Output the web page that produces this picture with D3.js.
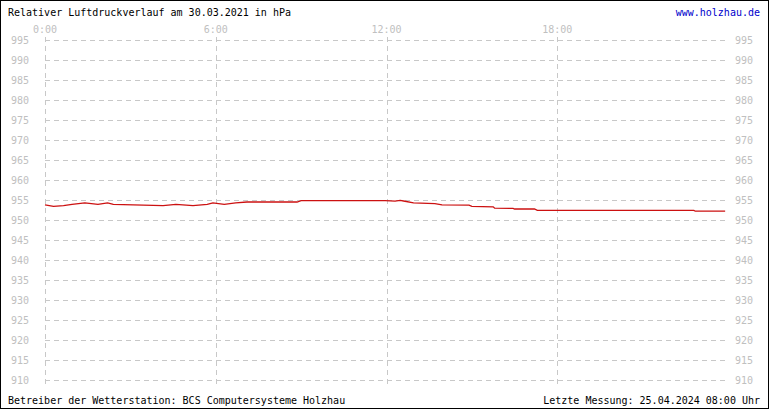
<!DOCTYPE html>
<html><head><meta charset="utf-8">
<script src="https://cdn.jsdelivr.net/npm/d3@7"></script>
<style>body{margin:0;background:#fff}text{font-family:"DejaVu Sans Mono",monospace}</style>
</head><body><div id="chart"></div>
<script>
// Messwerte (Stunde, hPa)
var hours = [0, 0.3, 0.65, 0.95, 1.4, 1.86, 2.2, 2.4, 4.15, 4.6, 5.2, 5.7, 5.9, 6.3, 6.7, 7.1, 8.86, 9.0, 11.95, 12.3, 12.48, 12.6, 12.95, 13.7, 13.95, 14.9, 15.0, 15.75, 15.8, 16.45, 16.5, 17.2, 17.3, 22.8, 22.85, 23.9];
var pressure = [953.8, 953.4, 953.6, 953.9, 954.3, 953.9, 954.3, 953.9, 953.6, 953.9, 953.6, 953.9, 954.3, 953.9, 954.3, 954.5, 954.5, 954.85, 954.85, 954.7, 954.9, 954.75, 954.3, 954.1, 953.8, 953.7, 953.4, 953.3, 952.95, 952.9, 952.75, 952.75, 952.4, 952.4, 952.2, 952.2];
var yTicks = d3.range(910, 1000, 5);
var xTicks = [0, 6, 12, 18];
var xTickLabels = ["0:00", "6:00", "12:00", "18:00"];

var svgWidth = 770, svgHeight = 410;
var svg = d3.select("#chart").append("svg").attr("width", svgWidth).attr("height", svgHeight);

// Rahmen
svg.append("rect").attr("x", 0.5).attr("y", 0.5).attr("width", 768).attr("height", 408)
    .attr("fill", "none").attr("stroke", "#000");

var x = d3.scaleLinear().domain([0, 24]).range([45, 728]);
var y = d3.scaleLinear().domain([910, 995]).range([380, 40]);

var grid = "#c8c8c8";
svg.selectAll(".hgrid").data(yTicks).enter().append("line")
    .attr("x1", 45).attr("x2", 725)
    .attr("y1", d => Math.round(y(d)) + 0.5).attr("y2", d => Math.round(y(d)) + 0.5)
    .attr("stroke", grid).attr("stroke-dasharray", "5,4");
svg.selectAll(".vgrid").data(xTicks).enter().append("line")
    .attr("x1", d => Math.round(x(d)) + 0.5).attr("x2", d => Math.round(x(d)) + 0.5)
    .attr("y1", 37).attr("y2", 386)
    .attr("stroke", grid).attr("stroke-dasharray", "5,4");

svg.selectAll(".yl").data(yTicks).enter().append("text")
    .attr("x", 11).attr("y", d => y(d) + 4).attr("font-size", 10).attr("fill", "#c0c0c0").text(d => d);
svg.selectAll(".yr").data(yTicks).enter().append("text")
    .attr("x", 735).attr("y", d => y(d) + 4).attr("font-size", 10).attr("fill", "#c0c0c0").text(d => d);
svg.selectAll(".xl").data(xTicks).enter().append("text")
    .attr("x", d => x(d)).attr("y", 33).attr("text-anchor", "middle")
    .attr("font-size", 10).attr("fill", "#c0c0c0").text((d, i) => xTickLabels[i]);

var line = d3.line().x((d, i) => x(hours[i])).y(d => y(d));
svg.append("path").datum(pressure).attr("d", line)
    .attr("fill", "none").attr("stroke", "#cc1111").attr("stroke-width", 1.3);

svg.append("text").attr("x", 8).attr("y", 16).attr("font-size", 10).text("Relativer Luftdruckverlauf am 30.03.2021 in hPa");
svg.append("text").attr("x", 760).attr("y", 16).attr("text-anchor", "end").attr("font-size", 10)
    .attr("fill", "#0000cc").text("www.holzhau.de");
svg.append("text").attr("x", 8).attr("y", 404).attr("font-size", 10).text("Betreiber der Wetterstation: BCS Computersysteme Holzhau");
svg.append("text").attr("x", 760).attr("y", 404).attr("text-anchor", "end").attr("font-size", 10)
    .text("Letzte Messung: 25.04.2024 08:00 Uhr");
</script></body></html>
